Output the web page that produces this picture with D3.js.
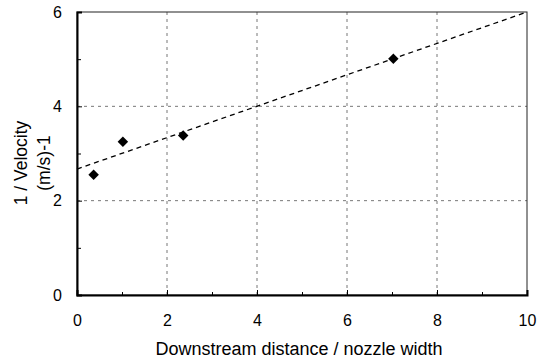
<!DOCTYPE html>
<html><head><meta charset="utf-8">
<script src="https://cdn.jsdelivr.net/npm/d3@7"></script>
<style>body{margin:0;background:#fff}svg{display:block}text{font-family:"Liberation Sans",Arial,sans-serif;fill:#000}</style>
</head><body>
<script>
const xTicks = [0, 2, 4, 6, 8, 10];
const yTicks = [0, 2, 4, 6];
const pointX = [0.37, 1.02, 2.36, 7.03];
const pointY = [2.55, 3.25, 3.38, 5.01];
const fitX = [0, 10];
const fitY = [2.67, 6.0];

const W = 538, H = 359;
const m = {l: 77, r: 11, t: 12, b: 64};
const svg = d3.select("body").append("svg").attr("width", W).attr("height", H);
const x = d3.scaleLinear().domain([0, 10]).range([m.l, W - m.r]);
const y = d3.scaleLinear().domain([0, 6]).range([H - m.b, m.t]);

// grid
svg.append("g").selectAll("line").data(xTicks.filter(d => d > 0 && d < 10)).join("line")
  .attr("x1", d => x(d)).attr("x2", d => x(d)).attr("y1", y(0)).attr("y2", y(6))
  .attr("stroke", "#777").attr("stroke-width", 1).attr("stroke-dasharray", "3,4");
svg.append("g").selectAll("line").data(yTicks.filter(d => d > 0 && d < 6)).join("line")
  .attr("x1", x(0)).attr("x2", x(10)).attr("y1", d => y(d)).attr("y2", d => y(d))
  .attr("stroke", "#777").attr("stroke-width", 1).attr("stroke-dasharray", "3,4");

// frame
svg.append("rect").attr("x", x(0)).attr("y", y(6)).attr("width", x(10) - x(0)).attr("height", y(0) - y(6))
  .attr("fill", "none").attr("stroke", "#222").attr("stroke-width", 1);

// axes
const xAxis = svg.append("g").attr("transform", `translate(0,${y(0)})`)
  .call(d3.axisBottom(x).tickValues(xTicks).tickSize(-5).tickPadding(20).tickFormat(d3.format("d")));
const yAxis = svg.append("g").attr("transform", `translate(${x(0)},0)`)
  .call(d3.axisLeft(y).tickValues(yTicks).tickSize(-5).tickPadding(15).tickFormat(d3.format("d")));
svg.append("g").attr("transform", `translate(0,${y(0)})`)
  .call(d3.axisBottom(x).tickValues(d3.range(1, 10, 2)).tickSize(-3).tickFormat(""))
  .call(g => g.select(".domain").remove());
svg.append("g").attr("transform", `translate(${x(0)},0)`)
  .call(d3.axisLeft(y).tickValues([1, 3, 5]).tickSize(-4).tickFormat(""))
  .call(g => g.select(".domain").remove());
[xAxis, yAxis].forEach(g => {
  g.select(".domain").attr("stroke", "#000").attr("stroke-width", 2);
  g.selectAll("text").attr("font-size", 16);
});

// fit line
svg.append("line").attr("x1", x(fitX[0])).attr("y1", y(fitY[0])).attr("x2", x(fitX[1])).attr("y2", y(fitY[1]))
  .attr("stroke", "#000").attr("stroke-width", 1.3).attr("stroke-dasharray", "5,4");

// points
svg.append("g").selectAll("path").data(pointX.map((d, i) => [d, pointY[i]])).join("path")
  .attr("d", d3.symbol(d3.symbolDiamond2, 70))
  .attr("transform", d => `translate(${x(d[0])},${y(d[1])})`).attr("fill", "#000");

// labels
svg.append("text").attr("x", 299).attr("y", 355).attr("text-anchor", "middle")
  .attr("font-size", 18).text("Downstream distance / nozzle width");
const yl = svg.append("text").attr("transform", `translate(27,163) rotate(-90)`).attr("text-anchor", "middle").attr("font-size", 17.5);
yl.append("tspan").attr("x", 0).attr("dy", 0).text("1 / Velocity");
yl.append("tspan").attr("x", 0).attr("dy", 23).text("(m/s)-1");
</script>
</body></html>
